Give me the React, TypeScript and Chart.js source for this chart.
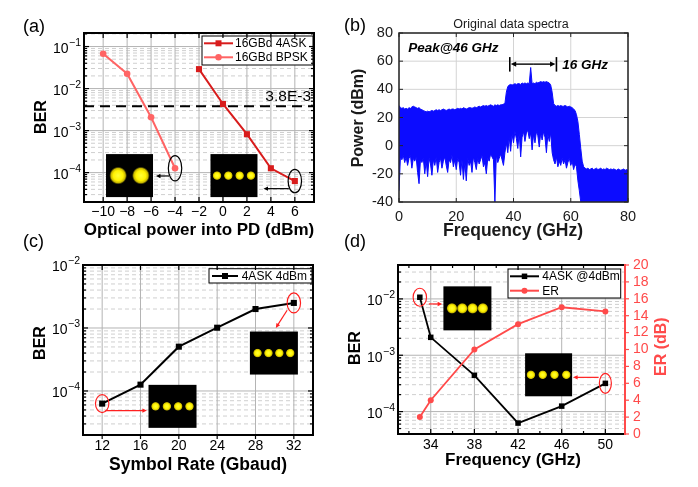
import React, { useEffect, useRef } from 'react';
import { Chart, registerables } from 'chart.js';

Chart.register(...registerables);

const FONT = "'Liberation Sans', Arial, Helvetica, sans-serif";
const f = (size: number, weight = '', style = '') =>
  [style, weight, `${size}px`, FONT].filter(Boolean).join(' ');

// ---------------- (a) BER vs optical power ----------------
const A_POWER_4ASK_DBM = [-2, 0, 2, 4, 6];
const A_BER_4ASK = [0.029, 0.0043, 8.2e-4, 1.27e-4, 6.3e-5];
const A_POWER_BPSK_DBM = [-10, -8, -6, -4];
const A_BER_BPSK = [0.0676, 0.0226, 2.07e-3, 1.27e-4];
const A_X_TICKS = [-10, -8, -6, -4, -2, 0, 2, 4, 6];
const A_Y_DECADES = [-1, -2, -3, -4];
const A_FEC = 3.8e-3;
const A_FEC_LABEL = '3.8E-3';
const A_LEGEND = ['16GBd 4ASK', '16GBd BPSK'];

// ---------------- (b) original data spectra ----------------
const B_FREQ_STEP_GHZ = 0.5;
const B_UPPER_DBM = [
  28.5, 27, 26.5, 27, 26, 26.5, 26, 27, 26.5, 27.5,
  28, 27.5, 27, 26.5, 27, 26, 25.5, 25, 24.5, 24,
  24.5, 24, 24.5, 25, 24.5, 25, 25.5, 25, 25.5, 25,
  25.5, 26, 25.5, 25, 25.5, 26, 25.5, 26, 26, 25.5,
  26, 26.5, 26, 26.5, 26, 27, 26.5, 26, 26.5, 27,
  27, 26.5, 27, 27.5, 27, 27.5, 28, 27.5, 28, 28.5,
  28, 28.5, 28, 28.5, 29, 28.5, 28, 29, 28.5, 29,
  28.5, 29, 29, 29.5, 30, 38, 42, 43, 43.5, 43,
  43.5, 44, 43.5, 44, 44, 43.5, 44.5, 44, 44.5, 44,
  44.5, 44, 55.5, 44, 44.5, 44, 45, 44.5, 45, 45.5,
  45, 45.5, 45, 45.5, 45, 44.5, 43, 38, 30, 28.5,
  28, 28.5, 28, 28.5, 28, 28, 28.5, 28, 27.5, 28,
  27.5, 27, 26, 25, 22, 17, 8, -2, -11, -15,
  -16, -16.5, -16, -17, -16.5, -16, -17, -16.5, -16, -17,
  -16.5, -16, -17, -16.5, -17, -16, -16.5, -17, -16.5, -17,
  -16.5, -17, -17.5, -16.5, -17, -17.5, -17, -16.5, -17.5, -17,
  -17.5,
];
const B_LOWER_DBM = [
  -32, -8, -10, -7, -12, -8, -14, -9, -7, -16,
  -9, -11, -8, -19, -27, -10, -12, -9, -20, -11,
  -22, -9, -13, -21, -10, -14, -8, -19, -12, -9,
  -16, -11, -8, -14, -19, -10, -12, -7, -15, -10,
  -17, -9, -12, -21, -10, -24, -12, -25, -9, -14,
  -11, -19, -8, -12, -17, -9, -13, -10, -7, -15,
  -12, -20, -9, -11, -6, -8, -10, -40, -7, -12,
  -9, -6, -10, -14, -5, 2, -5, 6, -4, 8,
  2, 10, 5, -2, 9, -8, 6, 10, 3, 9,
  11, 5, 9, -3, 8, 2, 10, 7, -1, 9,
  4, 10, 6, -5, 8, 3, 9, -5, -10, -13,
  -8, -15, -11, -14, -9, -13, -10, -16, -12, -9,
  -14, -11, -17, -13, -15, -25, -32, -40, -40, -40,
  -40, -40, -40, -40, -40, -40, -40, -40, -40, -40,
  -40, -40, -40, -40, -40, -40, -40, -40, -40, -40,
  -40, -40, -40, -40, -40, -40, -40, -40, -40, -40,
  -40,
];
const B_X_TICKS = [0, 20, 40, 60, 80];
const B_Y_TICKS = [-40, -20, 0, 20, 40, 60, 80];

// ---------------- (c) BER vs symbol rate ----------------
const C_RATE_GBAUD = [12, 16, 20, 24, 28, 32];
const C_BER = [6.3e-5, 1.26e-4, 5.05e-4, 1.01e-3, 2.0e-3, 2.5e-3];
const C_X_TICKS = [12, 16, 20, 24, 28, 32];
const C_Y_DECADES = [-2, -3, -4];
const C_LEGEND = ['4ASK 4dBm'];

// ---------------- (d) BER & ER vs frequency ----------------
const D_FREQ_GHZ = [33, 34, 38, 42, 46, 50];
const D_BER = [0.0107, 2.08e-3, 4.4e-4, 6.25e-5, 1.25e-4, 3.17e-4];
const D_ER_DB = [2, 4, 10, 13, 15, 14.5];
const D_X_TICKS = [34, 38, 42, 46, 50];
const D_X_MINOR = [32, 36, 40, 44, 48];
const D_Y_DECADES = [-2, -3, -4];
const D_ER_TICKS = [0, 2, 4, 6, 8, 10, 12, 14, 16, 18, 20];
const D_LEGEND = ['4ASK @4dBm', 'ER'];

// ---------------- colours ----------------
const RED_4ASK = '#d81c1c';
const RED_BPSK = '#ff6464';
const RED_ER = '#ff4a4a';
const SPEC_BLUE = '#0c0cff';
const GRID_MAJOR = '#b4b4b4';
const GRID_MINOR = '#cfcfcf';

type Ctx = CanvasRenderingContext2D;

function seg(ctx: Ctx, x1: number, y1: number, x2: number, y2: number, color: string, width: number, dash: number[] = []) {
  ctx.save();
  ctx.strokeStyle = color;
  ctx.lineWidth = width;
  ctx.setLineDash(dash);
  ctx.beginPath();
  ctx.moveTo(x1, y1);
  ctx.lineTo(x2, y2);
  ctx.stroke();
  ctx.restore();
}

function label(ctx: Ctx, s: string, x: number, y: number, font: string, color = '#000', align: CanvasTextAlign = 'center', rot = 0) {
  ctx.save();
  ctx.translate(x, y);
  if (rot) ctx.rotate(rot);
  ctx.font = font;
  ctx.fillStyle = color;
  ctx.textAlign = align;
  ctx.textBaseline = 'middle';
  ctx.fillText(s, 0, 0);
  ctx.restore();
}

function pow10(ctx: Ctx, exp: number, xRight: number, y: number) {
  const sup = '\u2212' + Math.abs(exp);
  ctx.save();
  ctx.fillStyle = '#000';
  ctx.textBaseline = 'middle';
  ctx.textAlign = 'left';
  ctx.font = f(10.5);
  const ws = ctx.measureText(sup).width;
  ctx.font = f(14);
  const wb = ctx.measureText('10').width;
  ctx.fillText('10', xRight - ws - wb - 0.5, y + 2.5);
  ctx.font = f(10.5);
  ctx.fillText(sup, xRight - ws, y - 3.5);
  ctx.restore();
}

function numLabel(v: number) {
  return v < 0 ? '\u2212' + Math.abs(v) : String(v);
}

function logGrid(min: number, max: number) {
  const out: { v: number; major: boolean }[] = [];
  const e0 = Math.floor(Math.log10(min));
  const e1 = Math.ceil(Math.log10(max));
  for (let e = e0; e <= e1; e++) {
    for (let m = 1; m <= 9; m++) {
      const v = m * Math.pow(10, e);
      if (v >= min * 1.0001 && v <= max * 0.9999) out.push({ v, major: m === 1 });
    }
  }
  return out;
}

function inset(ctx: Ctx, cx: number, cy: number, w: number, h: number, n: number, spacing: number, r: number) {
  ctx.save();
  ctx.fillStyle = '#000';
  ctx.fillRect(cx - w / 2, cy - h / 2, w, h);
  for (let k = 0; k < n; k++) {
    const x = cx + (k - (n - 1) / 2) * spacing;
    const g = ctx.createRadialGradient(x, cy, 0, x, cy, r);
    g.addColorStop(0, '#ffff3a');
    g.addColorStop(0.55, '#fff200');
    g.addColorStop(0.8, 'rgba(235,215,0,0.85)');
    g.addColorStop(1, 'rgba(120,110,0,0)');
    ctx.fillStyle = g;
    ctx.beginPath();
    ctx.arc(x, cy, r, 0, Math.PI * 2);
    ctx.fill();
  }
  ctx.restore();
  return { left: cx - w / 2, right: cx + w / 2, top: cy - h / 2, bottom: cy + h / 2 };
}

function ellipse(ctx: Ctx, cx: number, cy: number, rx: number, ry: number, color: string) {
  ctx.save();
  ctx.strokeStyle = color;
  ctx.lineWidth = 1.2;
  ctx.beginPath();
  ctx.ellipse(cx, cy, rx, ry, 0, 0, Math.PI * 2);
  ctx.stroke();
  ctx.restore();
}

function arrow(ctx: Ctx, x1: number, y1: number, x2: number, y2: number, color: string, width = 1.2, head = 5) {
  const ang = Math.atan2(y2 - y1, x2 - x1);
  seg(ctx, x1, y1, x2 - Math.cos(ang) * head * 0.6, y2 - Math.sin(ang) * head * 0.6, color, width);
  ctx.save();
  ctx.fillStyle = color;
  ctx.beginPath();
  ctx.moveTo(x2, y2);
  ctx.lineTo(x2 - head * Math.cos(ang - 0.45), y2 - head * Math.sin(ang - 0.45));
  ctx.lineTo(x2 - head * Math.cos(ang + 0.45), y2 - head * Math.sin(ang + 0.45));
  ctx.closePath();
  ctx.fill();
  ctx.restore();
}

function marker(ctx: Ctx, kind: string, x: number, y: number, size: number, color: string) {
  ctx.save();
  ctx.fillStyle = color;
  ctx.beginPath();
  if (kind === 'rect') ctx.rect(x - size / 2, y - size / 2, size, size);
  else ctx.arc(x, y, size / 2, 0, Math.PI * 2);
  ctx.fill();
  ctx.restore();
}

type LegendRow = { text: string; color: string; kind: string; size: number };
function legendBox(ctx: Ctx, bx: number, by: number, bw: number, bh: number, rows: LegendRow[], rowYs: number[], lineFrom: number, lineTo: number, textX: number) {
  ctx.save();
  ctx.fillStyle = '#fff';
  ctx.fillRect(bx, by, bw, bh);
  ctx.strokeStyle = '#000';
  ctx.lineWidth = 1;
  ctx.strokeRect(bx, by, bw, bh);
  ctx.restore();
  rows.forEach((r, i) => {
    const y = rowYs[i];
    seg(ctx, bx + lineFrom, y, bx + lineTo, y, r.color, 2);
    marker(ctx, r.kind, bx + (lineFrom + lineTo) / 2, y, r.size, r.color);
    label(ctx, r.text, bx + textX, y + 0.5, f(12), '#000', 'left');
  });
}

function baseOptions(o: any) {
  return {
    responsive: false,
    maintainAspectRatio: false,
    animation: false,
    events: [],
    layout: { padding: { top: o.padTop, right: o.padRight, left: 0, bottom: 0 } },
    plugins: { legend: { display: false }, tooltip: { enabled: false }, title: { display: false } },
    scales: {
      x: {
        ...o.x,
        position: 'bottom',
        grid: { display: false },
        border: { display: false },
        ticks: { display: false },
        afterFit: (s: any) => { s.height = o.bottomH; },
      },
      y: {
        ...o.y,
        position: 'left',
        grid: { display: false },
        border: { display: false },
        ticks: { display: false },
        afterFit: (s: any) => { s.width = o.leftW; },
      },
      ...(o.extra || {}),
    },
  };
}

function originLogGrid(ctx: Ctx, a: any, xs: any, ys: any, xGrid: number[]) {
  for (const g of logGrid(ys.min, ys.max)) {
    const py = ys.getPixelForValue(g.v);
    if (g.major) seg(ctx, a.left, py, a.right, py, GRID_MAJOR, 1);
    else seg(ctx, a.left, py, a.right, py, GRID_MINOR, 1, [4, 3]);
  }
  for (const t of xGrid) {
    const px = xs.getPixelForValue(t);
    seg(ctx, px, a.top, px, a.bottom, GRID_MAJOR, 1);
  }
}

function logTicks(ctx: Ctx, a: any, ys: any, left: boolean, right: boolean) {
  for (const g of logGrid(ys.min, ys.max)) {
    const py = ys.getPixelForValue(g.v);
    const L = g.major ? 5 : 3;
    if (left) seg(ctx, a.left, py, a.left + L, py, '#000', 1.2);
    if (right) seg(ctx, a.right, py, a.right - L, py, '#000', 1.2);
  }
}

// ---------------- panel configs ----------------
function configA() {
  const plugin = {
    id: 'panelA',
    beforeDatasetsDraw(chart: any) {
      const { ctx, chartArea: a, scales } = chart;
      const xs = scales.x, ys = scales.y;
      originLogGrid(ctx, a, xs, ys, A_X_TICKS);
      const fy = ys.getPixelForValue(A_FEC);
      seg(ctx, a.left, fy, a.right, fy, '#000', 2, [10, 6]);
      label(ctx, A_FEC_LABEL, a.right - 3, fy - 9.5, f(15.5), '#000', 'right');
    },
    afterDatasetsDraw(chart: any) {
      const { ctx, chartArea: a, scales } = chart;
      const xs = scales.x, ys = scales.y;
      const i1 = inset(ctx, xs.getPixelForValue(-7.8), ys.getPixelForValue(8.5e-5), 47, 43, 2, 22.7, 9);
      const i2 = inset(ctx, xs.getPixelForValue(0.92), ys.getPixelForValue(8.5e-5), 47, 43, 4, 11.3, 4.7);
      const e1x = xs.getPixelForValue(A_POWER_BPSK_DBM[3]);
      const e1y = ys.getPixelForValue(A_BER_BPSK[3]);
      ellipse(ctx, e1x, e1y, 6.7, 12.7, '#000');
      arrow(ctx, e1x - 6, e1y + 7.7, i1.right + 3, e1y + 7.7, '#000');
      const e2x = xs.getPixelForValue(A_POWER_4ASK_DBM[4]);
      const e2y = ys.getPixelForValue(A_BER_4ASK[4]);
      ellipse(ctx, e2x, e2y, 6.7, 11.7, '#000');
      arrow(ctx, e2x - 6, e2y + 7.6, i2.right + 6, e2y + 7.6, '#000');
      legendBox(ctx, a.right - 112, a.top + 3, 111, 29, [
        { text: A_LEGEND[0], color: RED_4ASK, kind: 'rect', size: 6 },
        { text: A_LEGEND[1], color: RED_BPSK, kind: 'circle', size: 6.5 },
      ], [a.top + 10.3, a.top + 24.3], 2, 31, 33);
    },
    afterDraw(chart: any) {
      const { ctx, chartArea: a, scales } = chart;
      const xs = scales.x, ys = scales.y;
      for (const t of A_X_TICKS) {
        const px = xs.getPixelForValue(t);
        seg(ctx, px, a.bottom, px, a.bottom - 5, '#000', 1.2);
        seg(ctx, px, a.top, px, a.top + 5, '#000', 1.2);
        label(ctx, numLabel(t), px, a.bottom + 10, f(14));
      }
      logTicks(ctx, a, ys, true, true);
      ctx.save();
      ctx.strokeStyle = '#000';
      ctx.lineWidth = 2;
      ctx.strokeRect(a.left, a.top, a.right - a.left, a.bottom - a.top);
      ctx.restore();
      for (const e of A_Y_DECADES) pow10(ctx, e, a.left - 3, ys.getPixelForValue(Math.pow(10, e)));
      label(ctx, 'Optical power into PD (dBm)', 199, 230, f(17, 'bold'));
      label(ctx, 'BER', 42, 117, f(16, 'bold'), '#000', 'center', -Math.PI / 2);
      label(ctx, '(a)', 23, 27, f(18), '#000', 'left');
    },
  };
  return {
    type: 'line',
    data: {
      datasets: [
        {
          label: A_LEGEND[1],
          data: A_POWER_BPSK_DBM.map((x, i) => ({ x, y: A_BER_BPSK[i] })),
          borderColor: RED_BPSK, backgroundColor: RED_BPSK, borderWidth: 2,
          pointStyle: 'circle', pointRadius: 3.3, pointBorderWidth: 0, tension: 0, fill: false,
        },
        {
          label: A_LEGEND[0],
          data: A_POWER_4ASK_DBM.map((x, i) => ({ x, y: A_BER_4ASK[i] })),
          borderColor: RED_4ASK, backgroundColor: RED_4ASK, borderWidth: 2,
          pointStyle: 'rect', pointRadius: 4.3, pointBorderWidth: 0, tension: 0, fill: false,
        },
      ],
    },
    options: baseOptions({
      padTop: 33, padRight: 35, leftW: 84, bottomH: 41,
      x: { type: 'linear', min: -11.6, max: 7.6 },
      y: { type: 'logarithmic', min: 2e-5, max: 0.21 },
    }),
    plugins: [plugin],
  };
}

function configB() {
  const plugin = {
    id: 'panelB',
    beforeDatasetsDraw(chart: any) {
      const { ctx, chartArea: a, scales } = chart;
      const xs = scales.x, ys = scales.y;
      for (const t of B_X_TICKS) {
        const px = xs.getPixelForValue(t);
        seg(ctx, px, a.top, px, a.bottom, '#d4d4d4', 1);
      }
      for (const t of B_Y_TICKS) {
        const py = ys.getPixelForValue(t);
        seg(ctx, a.left, py, a.right, py, '#d4d4d4', 1);
      }
    },
    afterDraw(chart: any) {
      const { ctx, chartArea: a, scales } = chart;
      const xs = scales.x, ys = scales.y;
      for (const t of B_X_TICKS) {
        const px = xs.getPixelForValue(t);
        seg(ctx, px, a.bottom, px, a.bottom - 4, '#262626', 1);
        seg(ctx, px, a.top, px, a.top + 4, '#262626', 1);
        label(ctx, String(t), px, a.bottom + 14.5, f(14.5), '#1a1a1a');
      }
      for (const t of B_Y_TICKS) {
        const py = ys.getPixelForValue(t);
        seg(ctx, a.left, py, a.left + 4, py, '#262626', 1);
        seg(ctx, a.right, py, a.right - 4, py, '#262626', 1);
        label(ctx, String(t), a.left - 6, py, f(14.5), '#1a1a1a', 'right');
      }
      ctx.save();
      ctx.strokeStyle = '#262626';
      ctx.lineWidth = 1.5;
      ctx.strokeRect(a.left, a.top, a.right - a.left, a.bottom - a.top);
      ctx.restore();
      // 16 GHz bandwidth marker
      const x1 = xs.getPixelForValue(38.7), x2 = xs.getPixelForValue(55);
      const ym = ys.getPixelForValue(57.9);
      const yt = ys.getPixelForValue(62.9), yb = ys.getPixelForValue(52.6);
      seg(ctx, x1, yt, x1, yb, '#000', 1.6);
      seg(ctx, x2, yt, x2, yb, '#000', 1.6);
      const mid = (x1 + x2) / 2;
      arrow(ctx, mid, ym, x1 + 1, ym, '#000', 1.4, 6);
      arrow(ctx, mid, ym, x2 - 1, ym, '#000', 1.4, 6);
      label(ctx, '16 GHz', xs.getPixelForValue(57), ys.getPixelForValue(57.4), f(13.5, 'bold', 'italic'), '#000', 'left');
      label(ctx, 'Peak@46 GHz', xs.getPixelForValue(3.2), ys.getPixelForValue(69.3), f(13.5, 'bold', 'italic'), '#000', 'left');
      label(ctx, 'Original data spectra', 171, 25, f(12.5), '#1a1a1a');
      label(ctx, 'Frequency (GHz)', 173, 231, f(17.5, 'bold'), '#1a1a1a');
      label(ctx, 'Power (dBm)', 18.5, 118, f(16, 'bold'), '#1a1a1a', 'center', -Math.PI / 2);
      label(ctx, '(b)', 4, 26, f(18), '#000', 'left');
    },
  };
  const upper = B_UPPER_DBM.map((v, i) => ({ x: i * B_FREQ_STEP_GHZ, y: v }));
  const lower = B_LOWER_DBM.map((v, i) => ({ x: i * B_FREQ_STEP_GHZ, y: v }));
  return {
    type: 'line',
    data: {
      datasets: [
        {
          label: 'upper', data: upper, borderColor: SPEC_BLUE, backgroundColor: SPEC_BLUE,
          borderWidth: 1, pointRadius: 0, tension: 0, fill: '+1',
        },
        {
          label: 'lower', data: lower, borderColor: SPEC_BLUE, backgroundColor: SPEC_BLUE,
          borderWidth: 1, pointRadius: 0, tension: 0, fill: false,
        },
      ],
    },
    options: baseOptions({
      padTop: 33, padRight: 70, leftW: 59, bottomH: 41,
      x: { type: 'linear', min: 0, max: 80 },
      y: { type: 'linear', min: -40, max: 80 },
    }),
    plugins: [plugin],
  };
}

function configC() {
  const plugin = {
    id: 'panelC',
    beforeDatasetsDraw(chart: any) {
      const { ctx, chartArea: a, scales } = chart;
      originLogGrid(ctx, a, scales.x, scales.y, C_X_TICKS);
    },
    afterDatasetsDraw(chart: any) {
      const { ctx, chartArea: a, scales } = chart;
      const xs = scales.x, ys = scales.y;
      const i1 = inset(ctx, xs.getPixelForValue(19.34), ys.getPixelForValue(5.7e-5), 48, 43, 4, 11.3, 4.7);
      inset(ctx, xs.getPixelForValue(29.92), ys.getPixelForValue(4.0e-4), 48, 43, 4, 10.9, 4.7);
      const e1x = xs.getPixelForValue(C_RATE_GBAUD[0]);
      const e1y = ys.getPixelForValue(C_BER[0]);
      ellipse(ctx, e1x, e1y, 6.7, 9, '#ff2020');
      arrow(ctx, e1x + 3.3, e1y + 7, i1.left - 1.6, e1y + 7, '#ff2020');
      const e2x = xs.getPixelForValue(C_RATE_GBAUD[5]);
      const e2y = ys.getPixelForValue(C_BER[5]);
      ellipse(ctx, e2x, e2y, 6.7, 10, '#ff2020');
      arrow(ctx, e2x - 6.7, e2y + 7.3, e2x - 18, e2y + 25, '#ff2020');
      legendBox(ctx, a.right - 104, a.top + 3.7, 103, 14.3, [
        { text: C_LEGEND[0], color: '#000', kind: 'rect', size: 6 },
      ], [a.top + 11], 3, 29, 32.7);
    },
    afterDraw(chart: any) {
      const { ctx, chartArea: a, scales } = chart;
      const xs = scales.x, ys = scales.y;
      for (const t of C_X_TICKS) {
        const px = xs.getPixelForValue(t);
        seg(ctx, px, a.bottom, px, a.bottom + 4, '#000', 1.2);
        seg(ctx, px, a.top, px, a.top + 5, '#000', 1.2);
        label(ctx, String(t), px, a.bottom + 10.7, f(14));
      }
      logTicks(ctx, a, ys, true, true);
      ctx.save();
      ctx.strokeStyle = '#000';
      ctx.lineWidth = 2;
      ctx.strokeRect(a.left, a.top, a.right - a.left, a.bottom - a.top);
      ctx.restore();
      for (const e of C_Y_DECADES) pow10(ctx, e, a.left - 3, ys.getPixelForValue(Math.pow(10, e)));
      label(ctx, 'Symbol Rate (Gbaud)', 198, 237.5, f(17.5, 'bold'));
      label(ctx, 'BER', 41, 115, f(16, 'bold'), '#000', 'center', -Math.PI / 2);
      label(ctx, '(c)', 23, 14, f(18), '#000', 'left');
    },
  };
  return {
    type: 'line',
    data: {
      datasets: [
        {
          label: C_LEGEND[0],
          data: C_RATE_GBAUD.map((x, i) => ({ x, y: C_BER[i] })),
          borderColor: '#000', backgroundColor: '#000', borderWidth: 2,
          pointStyle: 'rect', pointRadius: 4.3, pointBorderWidth: 0, tension: 0, fill: false,
        },
      ],
    },
    options: baseOptions({
      padTop: 37, padRight: 36, leftW: 83, bottomH: 52,
      x: { type: 'linear', min: 10, max: 34 },
      y: { type: 'logarithmic', min: 2e-5, max: 1e-2 },
    }),
    plugins: [plugin],
  };
}

function configD() {
  const plugin = {
    id: 'panelD',
    beforeDatasetsDraw(chart: any) {
      const { ctx, chartArea: a, scales } = chart;
      originLogGrid(ctx, a, scales.x, scales.y, D_X_TICKS);
    },
    afterDatasetsDraw(chart: any) {
      const { ctx, chartArea: a, scales } = chart;
      const xs = scales.x, ys = scales.y;
      const i1 = inset(ctx, xs.getPixelForValue(37.36), ys.getPixelForValue(6.8e-3), 48, 44, 4, 10.3, 5.6);
      const i2 = inset(ctx, xs.getPixelForValue(44.8), ys.getPixelForValue(4.5e-4), 47, 43, 4, 11.8, 4.7);
      const e1x = xs.getPixelForValue(D_FREQ_GHZ[0]);
      const e1y = ys.getPixelForValue(D_BER[0]);
      ellipse(ctx, e1x, e1y, 6.7, 9, '#ff2020');
      arrow(ctx, e1x + 9, e1y + 6.7, i1.left - 1.3, e1y + 6.7, '#ff2020');
      const e2x = xs.getPixelForValue(D_FREQ_GHZ[5]);
      const e2y = ys.getPixelForValue(D_BER[5]);
      ellipse(ctx, e2x, e2y, 6, 10, '#ff2020');
      arrow(ctx, e2x - 6.7, e2y - 6, i2.right + 1, e2y - 6, '#ff2020');
      legendBox(ctx, a.right - 117, a.top + 4, 112.7, 29, [
        { text: D_LEGEND[0], color: '#000', kind: 'rect', size: 5.5 },
        { text: D_LEGEND[1], color: RED_ER, kind: 'circle', size: 6 },
      ], [a.top + 11.3, a.top + 25.7], 2, 31, 34.3);
    },
    afterDraw(chart: any) {
      const { ctx, chartArea: a, scales } = chart;
      const xs = scales.x, ys = scales.y, y2 = scales.y2;
      for (const t of D_X_TICKS) {
        const px = xs.getPixelForValue(t);
        seg(ctx, px, a.bottom, px, a.bottom - 5, '#000', 1.2);
        seg(ctx, px, a.top, px, a.top + 5, '#000', 1.2);
        label(ctx, String(t), px, a.bottom + 11, f(14));
      }
      for (const t of D_X_MINOR) {
        const px = xs.getPixelForValue(t);
        seg(ctx, px, a.bottom, px, a.bottom - 3, '#000', 1.2);
        seg(ctx, px, a.top, px, a.top + 3, '#000', 1.2);
      }
      logTicks(ctx, a, ys, true, false);
      ctx.save();
      ctx.strokeStyle = '#000';
      ctx.lineWidth = 2;
      ctx.strokeRect(a.left, a.top, a.right - a.left, a.bottom - a.top);
      ctx.restore();
      seg(ctx, a.right, a.top - 1, a.right, a.bottom + 1, RED_ER, 2);
      for (const t of D_ER_TICKS) {
        const py = y2.getPixelForValue(t);
        seg(ctx, a.right, py, a.right + 4, py, RED_ER, 1.2);
        label(ctx, String(t), a.right + 8, py, f(14), RED_ER, 'left');
      }
      for (const e of D_Y_DECADES) pow10(ctx, e, a.left - 3, ys.getPixelForValue(Math.pow(10, e)));
      label(ctx, 'Frequency (GHz)', 173, 232, f(17, 'bold'));
      label(ctx, 'BER', 16, 120, f(16, 'bold'), '#000', 'center', -Math.PI / 2);
      label(ctx, 'ER (dB)', 321.7, 118.7, f(16, 'bold'), RED_ER, 'center', -Math.PI / 2);
      label(ctx, '(d)', 4, 14, f(18), '#000', 'left');
    },
  };
  const opts: any = baseOptions({
    padTop: 37, padRight: 0, leftW: 58, bottomH: 53,
    x: { type: 'linear', min: 31, max: 51.8 },
    y: { type: 'logarithmic', min: 4e-5, max: 0.04 },
    extra: {
      y2: {
        type: 'linear', min: 0, max: 20, position: 'right',
        grid: { display: false }, border: { display: false }, ticks: { display: false },
        afterFit: (s: any) => { s.width = 73; },
      },
    },
  });
  return {
    type: 'line',
    data: {
      datasets: [
        {
          label: D_LEGEND[1],
          data: D_FREQ_GHZ.map((x, i) => ({ x, y: D_ER_DB[i] })),
          yAxisID: 'y2',
          borderColor: RED_ER, backgroundColor: RED_ER, borderWidth: 1.8,
          pointStyle: 'circle', pointRadius: 3, pointBorderWidth: 0, tension: 0, fill: false,
        },
        {
          label: D_LEGEND[0],
          data: D_FREQ_GHZ.map((x, i) => ({ x, y: D_BER[i] })),
          yAxisID: 'y',
          borderColor: '#000', backgroundColor: '#000', borderWidth: 1.8,
          pointStyle: 'rect', pointRadius: 3.9, pointBorderWidth: 0, tension: 0, fill: false,
        },
      ],
    },
    options: opts,
    plugins: [plugin],
  };
}

function Panel({ left, top, width, height, make }: any) {
  const ref = useRef<HTMLCanvasElement>(null);
  useEffect(() => {
    const chart = new Chart(ref.current as HTMLCanvasElement, make());
    return () => chart.destroy();
  }, []);
  return (
    <canvas
      ref={ref}
      width={width}
      height={height}
      style={{ position: 'absolute', left, top, width, height }}
    />
  );
}

export default function App() {
  return (
    <div style={{ position: 'fixed', left: 0, top: 0, width: 698, height: 487, background: '#fff', overflow: 'hidden' }}>
      <Panel left={0} top={0} width={349} height={243} make={configA} />
      <Panel left={340} top={0} width={358} height={243} make={configB} />
      <Panel left={0} top={228} width={349} height={259} make={configC} />
      <Panel left={340} top={228} width={358} height={259} make={configD} />
    </div>
  );
}
